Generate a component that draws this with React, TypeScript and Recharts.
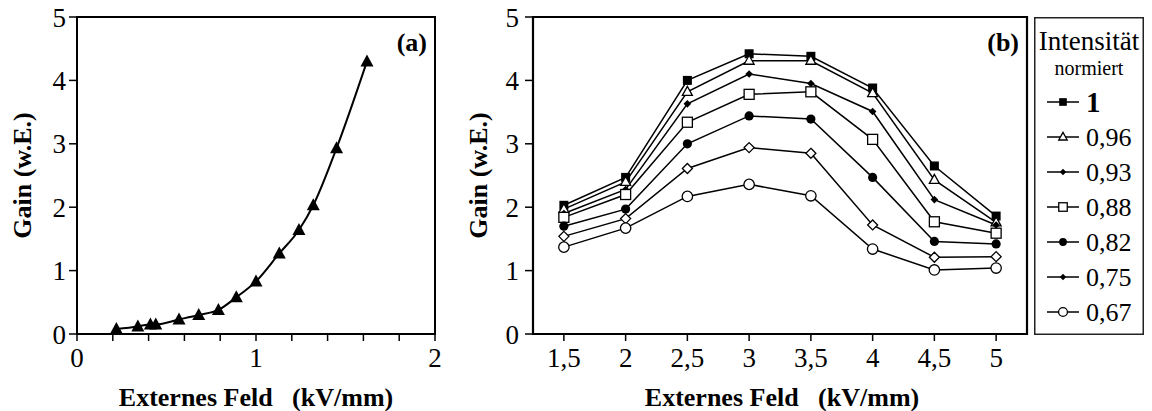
import { LineChart, Line, XAxis, YAxis, ReferenceArea } from "recharts"

const FONT = "'Liberation Serif', 'Times New Roman', Times, serif"
const INK = "#000"

// (a) gain at full intensity
const fieldA = [0.22, 0.34, 0.41, 0.44, 0.57, 0.68, 0.79, 0.89, 1.0, 1.13, 1.24, 1.32, 1.45, 1.62]
const gainA = [0.08, 0.12, 0.15, 0.15, 0.23, 0.3, 0.38, 0.58, 0.83, 1.27, 1.64, 2.03, 2.93, 4.3]
const fieldTicksA = [0, 0.2, 0.4, 0.6, 0.8, 1, 1.2, 1.4, 1.6, 1.8, 2]
const gainTicks = [0, 1, 2, 3, 4, 5]

// (b) gain for each normalised intensity
const fieldB = [1.5, 2, 2.5, 3, 3.5, 4, 4.5, 5]
const gain100 = [2.03, 2.47, 4.0, 4.42, 4.38, 3.88, 2.65, 1.86]
const gain096 = [1.97, 2.4, 3.82, 4.31, 4.31, 3.8, 2.43, 1.76]
const gain093 = [1.9, 2.28, 3.63, 4.1, 3.95, 3.51, 2.12, 1.72]
const gain088 = [1.84, 2.2, 3.34, 3.78, 3.82, 3.07, 1.77, 1.59]
const gain082 = [1.7, 1.97, 3.0, 3.44, 3.39, 2.47, 1.46, 1.42]
const gain075 = [1.54, 1.82, 2.61, 2.94, 2.85, 1.72, 1.21, 1.22]
const gain067 = [1.37, 1.67, 2.17, 2.36, 2.18, 1.34, 1.01, 1.04]
const intensityLabels = ["1", "0,96", "0,93", "0,88", "0,82", "0,75", "0,67"]

type Shape =
  | "triangle"
  | "square"
  | "openTriangle"
  | "diamond"
  | "openSquare"
  | "circle"
  | "openDiamond"
  | "openCircle"

const seriesB: { key: string; label: string; values: number[]; shape: Shape; legendShape: Shape }[] = [
  { key: "i100", label: intensityLabels[0], values: gain100, shape: "square", legendShape: "square" },
  { key: "i096", label: intensityLabels[1], values: gain096, shape: "openTriangle", legendShape: "openTriangle" },
  { key: "i093", label: intensityLabels[2], values: gain093, shape: "diamond", legendShape: "diamond" },
  { key: "i088", label: intensityLabels[3], values: gain088, shape: "openSquare", legendShape: "openSquare" },
  { key: "i082", label: intensityLabels[4], values: gain082, shape: "circle", legendShape: "circle" },
  { key: "i075", label: intensityLabels[5], values: gain075, shape: "openDiamond", legendShape: "diamond" },
  { key: "i067", label: intensityLabels[6], values: gain067, shape: "openCircle", legendShape: "openCircle" },
]

const dataA = fieldA.map((field, i) => ({ field, gain: gainA[i] }))
const dataB = fieldB.map((field, i) => {
  const row: Record<string, number> = { field }
  seriesB.forEach((s) => (row[s.key] = s.values[i]))
  return row
})

const comma = (v: number) => String(v).replace(".", ",")

function Marker({ cx, cy, shape, k = 1 }: { cx?: number; cy?: number; shape: Shape; k?: number }) {
  if (cx == null || cy == null) return null
  const open = { fill: "#fff", stroke: INK, strokeWidth: 1.3 }
  switch (shape) {
    case "triangle":
      return <polygon points={`${cx},${cy - 7 * k} ${cx - 6.5 * k},${cy + 5 * k} ${cx + 6.5 * k},${cy + 5 * k}`} fill={INK} />
    case "openTriangle":
      return <polygon points={`${cx},${cy - 5.5 * k} ${cx - 5 * k},${cy + 3.5 * k} ${cx + 5 * k},${cy + 3.5 * k}`} {...open} />
    case "square":
      return <rect x={cx - 4.5 * k} y={cy - 4.5 * k} width={9 * k} height={9 * k} fill={INK} />
    case "openSquare":
      return <rect x={cx - 5 * k} y={cy - 5 * k} width={10 * k} height={10 * k} {...open} />
    case "diamond":
      return <polygon points={`${cx},${cy - 3.8 * k} ${cx + 3.8 * k},${cy} ${cx},${cy + 3.8 * k} ${cx - 3.8 * k},${cy}`} fill={INK} />
    case "openDiamond":
      return <polygon points={`${cx},${cy - 5 * k} ${cx + 5 * k},${cy} ${cx},${cy + 5 * k} ${cx - 5 * k},${cy}`} {...open} />
    case "circle":
      return <circle cx={cx} cy={cy} r={4.6 * k} fill={INK} />
    case "openCircle":
      return <circle cx={cx} cy={cy} r={5.2 * k} {...open} />
  }
}

const tickStyle = { fontSize: 27, fill: INK, fontFamily: FONT }
const axisLine = { stroke: INK, strokeWidth: 2 }
const tickLine = { stroke: INK, strokeWidth: 1.5 }

const titleStyle = { fontSize: 26, fontWeight: 700, fontFamily: FONT, fill: INK }

const xTitle = (dx: number) => (props: any) => {
  const vb = props.viewBox
  return (
    <text x={vb.x + vb.width / 2 + dx} y={vb.y + 63} textAnchor="middle" dominantBaseline="central" {...titleStyle}>
      Externes Feld{"\u00a0\u00a0\u00a0"}(kV/mm)
    </text>
  )
}

const yTitle = (dx: number) => (props: any) => {
  const vb = props.viewBox
  const cx = vb.x + dx
  const cy = vb.y + vb.height / 2
  return (
    <text x={cx} y={cy} transform={`rotate(-90 ${cx} ${cy})`} textAnchor="middle" dominantBaseline="central" {...titleStyle}>
      Gain (w.E.)
    </text>
  )
}

// panel tag in the top right corner of the frame
const panelTag = (tag: string) => (props: any) => {
  const vb = props.viewBox
  return (
    <text x={vb.x + vb.width - 8} y={vb.y + 25} textAnchor="end" dominantBaseline="central" {...titleStyle}>
      {tag}
    </text>
  )
}

function PanelA() {
  return (
    <LineChart width={445} height={411} data={dataA} margin={{ top: 17, right: 10, bottom: 35, left: 10 }}>
      <XAxis
        dataKey="field"
        type="number"
        domain={[0, 2]}
        ticks={fieldTicksA}
        tickFormatter={(v: number) => (Number.isInteger(v) ? String(v) : "")}
        tick={tickStyle}
        tickSize={7}
        tickMargin={7}
        axisLine={axisLine}
        tickLine={tickLine}
        height={42}
        label={xTitle(0)}
      />
      <YAxis
        type="number"
        domain={[0, 5]}
        ticks={gainTicks}
        tick={tickStyle}
        tickSize={8}
        tickMargin={3}
        axisLine={axisLine}
        tickLine={tickLine}
        width={67}
        label={yTitle(12)}
      />
      <ReferenceArea x1={0} x2={2} y1={0} y2={5} fill="none" stroke={INK} strokeWidth={2} fillOpacity={0} ifOverflow="visible" label={panelTag("(a)")} />
      <Line
        dataKey="gain"
        type="monotone"
        stroke={INK}
        strokeWidth={2}
        isAnimationActive={false}
        dot={(p: any) => <Marker key={p.index} cx={p.cx} cy={p.cy} shape="triangle" />}
        activeDot={false}
      />
    </LineChart>
  )
}

function PanelB() {
  return (
    <LineChart width={590} height={411} data={dataB} margin={{ top: 17, right: 8, bottom: 35, left: 10 }}>
      <XAxis
        dataKey="field"
        type="number"
        domain={[1.25, 5.25]}
        ticks={fieldB}
        tickFormatter={comma}
        tick={tickStyle}
        tickSize={7}
        tickMargin={7}
        axisLine={axisLine}
        tickLine={tickLine}
        height={42}
        label={xTitle(2)}
      />
      <YAxis
        type="number"
        domain={[0, 5]}
        ticks={gainTicks}
        tick={tickStyle}
        tickSize={8}
        tickMargin={6}
        axisLine={axisLine}
        tickLine={tickLine}
        width={78}
        label={yTitle(23.5)}
      />
      <ReferenceArea x1={1.25} x2={5.25} y1={0} y2={5} fill="none" stroke={INK} strokeWidth={2.2} fillOpacity={0} ifOverflow="visible" label={panelTag("(b)")} />
      {seriesB.map((s) => (
        <Line
          key={s.key}
          dataKey={s.key}
          name={s.label}
          type="linear"
          stroke={INK}
          strokeWidth={1.5}
          isAnimationActive={false}
          dot={(p: any) => <Marker key={p.index} cx={p.cx} cy={p.cy} shape={s.shape} />}
          activeDot={false}
        />
      ))}
    </LineChart>
  )
}

function IntensityLegend() {
  return (
    <svg width={110} height={318} style={{ position: "absolute", left: 1034, top: 16.5 }}>
      <rect x={0.75} y={0.75} width={108.5} height={316.5} fill="#fff" stroke="#222" strokeWidth={1.5} />
      <text x={55} y={33} textAnchor="middle" fontFamily={FONT} fontSize={27} fill={INK}>
        Intensität
      </text>
      <text x={55} y={57.5} textAnchor="middle" fontFamily={FONT} fontSize={20} fill={INK}>
        normiert
      </text>
      {seriesB.map((s, i) => {
        const y = 85 + i * 35
        return (
          <g key={s.key}>
            <line x1={13} x2={45} y1={y} y2={y} stroke={INK} strokeWidth={1.5} />
            <Marker cx={29} cy={y} shape={s.legendShape} k={0.85} />
            <text
              x={52}
              y={y}
              dominantBaseline="central"
              fontFamily={FONT}
              fontSize={i === 0 ? 29 : 26}
              fontWeight={i === 0 ? 700 : 400}
              fill={INK}
            >
              {s.label}
            </text>
          </g>
        )
      })}
    </svg>
  )
}

export default function App() {
  return (
    <div style={{ position: "absolute", left: 0, top: 0, width: 1152, height: 411, background: "#fff" }}>
      <div style={{ position: "absolute", left: 0, top: 0 }}>
        <PanelA />
      </div>
      <div style={{ position: "absolute", left: 445, top: 0 }}>
        <PanelB />
      </div>
      <IntensityLegend />
    </div>
  )
}
